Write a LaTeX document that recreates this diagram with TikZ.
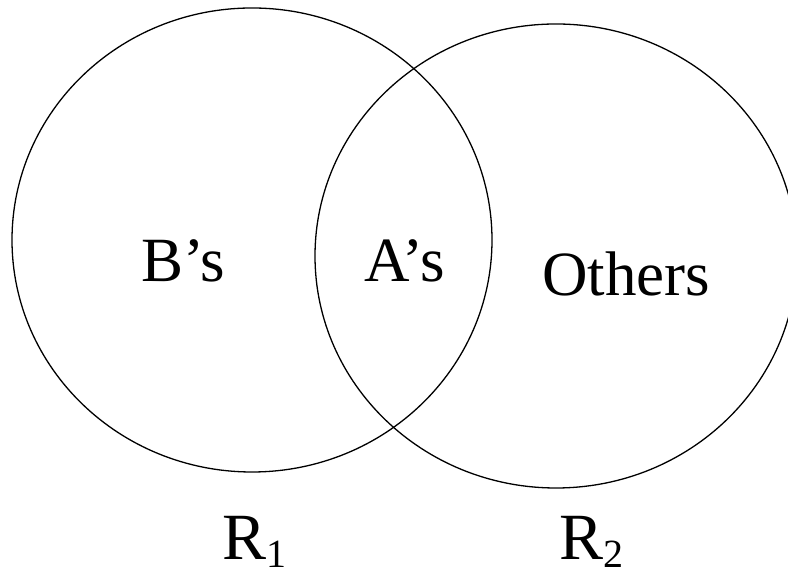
\documentclass[tikz,border=0pt]{standalone}
\usepackage{fontspec}
\setmainfont{Liberation Serif}
\begin{document}
\begin{tikzpicture}[x=1pt,y=1pt,
  circ/.style={draw, line width=1.3pt},
  lbl/.style={font=\fontsize{63}{63}\selectfont, inner sep=0pt, anchor=base west},
  rlbl/.style={font=\fontsize{66}{66}\selectfont, inner sep=0pt, anchor=base west, text depth=0pt},
  subs/.style={font=\fontsize{40}{40}\selectfont, inner sep=0pt, anchor=base west, text depth=0pt}]
\useasboundingbox (0,0) rectangle (788,569);
\begin{scope}
\clip (0,0) rectangle (788,569);
\draw[circ] (252,329) ellipse [x radius=240, y radius=232];
\draw[circ] (556,313) ellipse [x radius=241, y radius=232];
\end{scope}
\node[rlbl] (r1) at (222,9) {R};
\node[subs] (s1) at ([yshift=-8pt]r1.base east) {1};
\node[rlbl] (r2) at (559,9) {R};
\node[subs] (s2) at ([yshift=-8pt]r2.base east) {2};
\node[lbl] (b) at (141,287) {B’s};
\node[lbl] (a) at (364,287) {A’s};
\node[lbl] (o) at (542,273) {Others};
\end{tikzpicture}
\end{document}
